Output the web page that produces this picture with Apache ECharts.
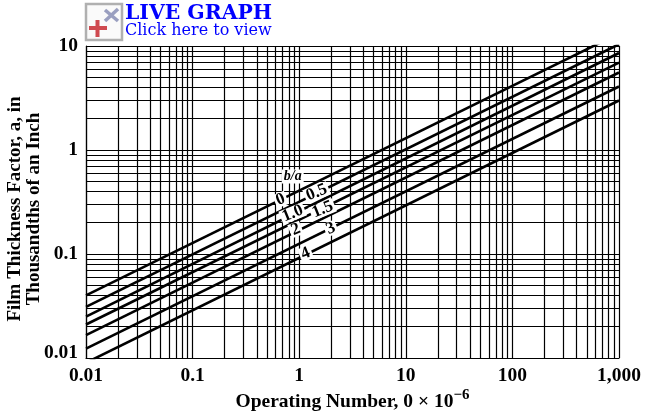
<!DOCTYPE html>
<html><head><meta charset="utf-8">
<style>html,body{margin:0;padding:0;background:#fff}#c{width:646px;height:418px}</style>
<script src="https://cdn.jsdelivr.net/npm/echarts@6/dist/echarts.min.js"></script>
</head><body><div id="c"></div>
<script>
const curveNames = ['0','0.5','1.0','1.5','2','3','4'];
const xEnds = [0.01, 1000];
const startValues = [0.04, 0.031, 0.025, 0.021, 0.0166, 0.0123, 0.009];
const endValues = [13.2, 10.4, 8.57, 6.93, 5.56, 4.08, 2.99];
const xTicks = [0.01, 0.1, 1, 10, 100, 1000];
const yTicks = [0.01, 0.1, 1, 10];
const minorMultipliers = [2,3,4,5,6,7,8,9];
const labelTexts = ['b/a','0','0.5','1.0','1.5','2','3','4'];
const labelX = [0.869,0.67,1.46,0.869,1.66,0.927,1.98,1.15];
const labelY = [0.556,0.334,0.39,0.245,0.268,0.172,0.176,0.101];
const xMinor = xTicks.slice(0,-1).flatMap(d=>minorMultipliers.map(m=>+(d*m).toPrecision(3)));
const yMinor = yTicks.slice(0,-1).flatMap(d=>minorMultipliers.map(m=>+(d*m).toPrecision(3)));
const serif = '"Liberation Serif","Times New Roman",serif';
const chart = echarts.init(document.getElementById('c'),null,{renderer:'canvas'});
const axisCommon = {
  type:'log', logBase:10,
  axisLine:{show:true,onZero:false,lineStyle:{color:'#000',width:1.2}},
  axisTick:{show:false},
  splitLine:{show:true,lineStyle:{color:'#000',width:1.2}},
  minorTick:{show:false}, minorSplitLine:{show:false}
};
const gridSeries = {
  type:'line', data:[], silent:true, z:1, symbol:'none',
  markLine:{silent:true,symbol:'none',animation:false,label:{show:false},z:1,
    lineStyle:{color:'#000',width:1.2,type:'solid'},
    data:[...xMinor.map(v=>({xAxis:v})),...yMinor.map(v=>({yAxis:v}))]}
};
const curves = curveNames.map((n,i)=>({
  name:n,type:'line',z:3,symbol:'none',silent:true,clip:true,animation:false,
  lineStyle:{color:'#000',width:2.6},
  data:[[xEnds[0],startValues[i]],[xEnds[1],endValues[i]]]
}));
const labels = {
  type:'scatter',z:5,symbolSize:1,silent:true,animation:false,clip:false,
  itemStyle:{opacity:0},
  data:labelTexts.map((t,i)=>({
    value:[labelX[i],labelY[i],t],
    label: i===0 ? {fontStyle:'italic',rotate:0,fontSize:14} : {rotate:22}
  })),
  label:{show:true,position:'inside',color:'#000',opacity:1,
    formatter:p=>p.value[2],
    fontFamily:serif,fontWeight:'bold',fontSize:17,
    backgroundColor:'#fff',padding:[0,2,0,2],lineHeight:14}
};
chart.setOption({
  animation:false,backgroundColor:'#fff',
  textStyle:{fontFamily:serif},
  grid:{left:86,top:46,width:533,height:312,containLabel:false,outerBoundsMode:'none'},
  xAxis:{...axisCommon,min:0.01,max:1000,position:'bottom',
    axisLabel:{color:'#000',fontFamily:serif,fontWeight:'bold',fontSize:19.5,margin:8,
      formatter:v=>v>=1000?'1,000':String(v),hideOverlap:false,showMinLabel:true,showMaxLabel:true},
    name:'{a|Operating Number, 0 × 10}{s|−6}',nameLocation:'middle',nameGap:30,nameMoveOverlap:false,
    nameTextStyle:{rich:{a:{fontFamily:serif,fontWeight:'bold',fontSize:19.5,color:'#000',verticalAlign:'bottom',lineHeight:24},
      s:{fontFamily:serif,fontWeight:'bold',fontSize:15,color:'#000',verticalAlign:'top',lineHeight:14}}}},
  yAxis:{...axisCommon,min:0.01,max:10,
    axisLabel:{color:'#000',fontFamily:serif,fontWeight:'bold',fontSize:19.5,margin:8,
      verticalAlignMinLabel:'bottom',lineHeight:10,
      formatter:v=>String(v),showMinLabel:true,showMaxLabel:true},
    name:'Film Thickness Factor, a, in\nThousandths of an Inch',nameLocation:'middle',nameGap:42,nameMoveOverlap:false,
    nameTextStyle:{color:'#000',fontFamily:serif,fontWeight:'bold',fontSize:19,lineHeight:19,padding:[0,14,0,0]}},
  series:[gridSeries,...curves,labels],
  graphic:[
    {type:'rect',shape:{x:86,y:4,width:36,height:36},style:{fill:'#fafafa',stroke:'#b0b0b0',lineWidth:2.5},z:10},
    {type:'line',shape:{x1:105,y1:10,x2:118,y2:21},style:{stroke:'#9a9fc0',lineWidth:3.5},z:11},
    {type:'line',shape:{x1:118,y1:9,x2:105,y2:21},style:{stroke:'#9a9fc0',lineWidth:3.5},z:11},
    {type:'line',shape:{x1:89,y1:28,x2:107,y2:28},style:{stroke:'#cf4a50',lineWidth:4},z:11},
    {type:'line',shape:{x1:97.5,y1:20,x2:97.5,y2:37},style:{stroke:'#cf4a50',lineWidth:4},z:11},
    {type:'text',x:125,y:4,z:11,style:{text:'LIVE GRAPH',fill:'#0000ff',fontFamily:'DejaVu Serif',fontWeight:'bold',fontSize:20.4}},
    {type:'text',x:125,y:23,z:11,style:{text:'Click here to view',fill:'#0000ff',fontFamily:'DejaVu Serif',fontSize:16}}
  ]
});
</script></body></html>
